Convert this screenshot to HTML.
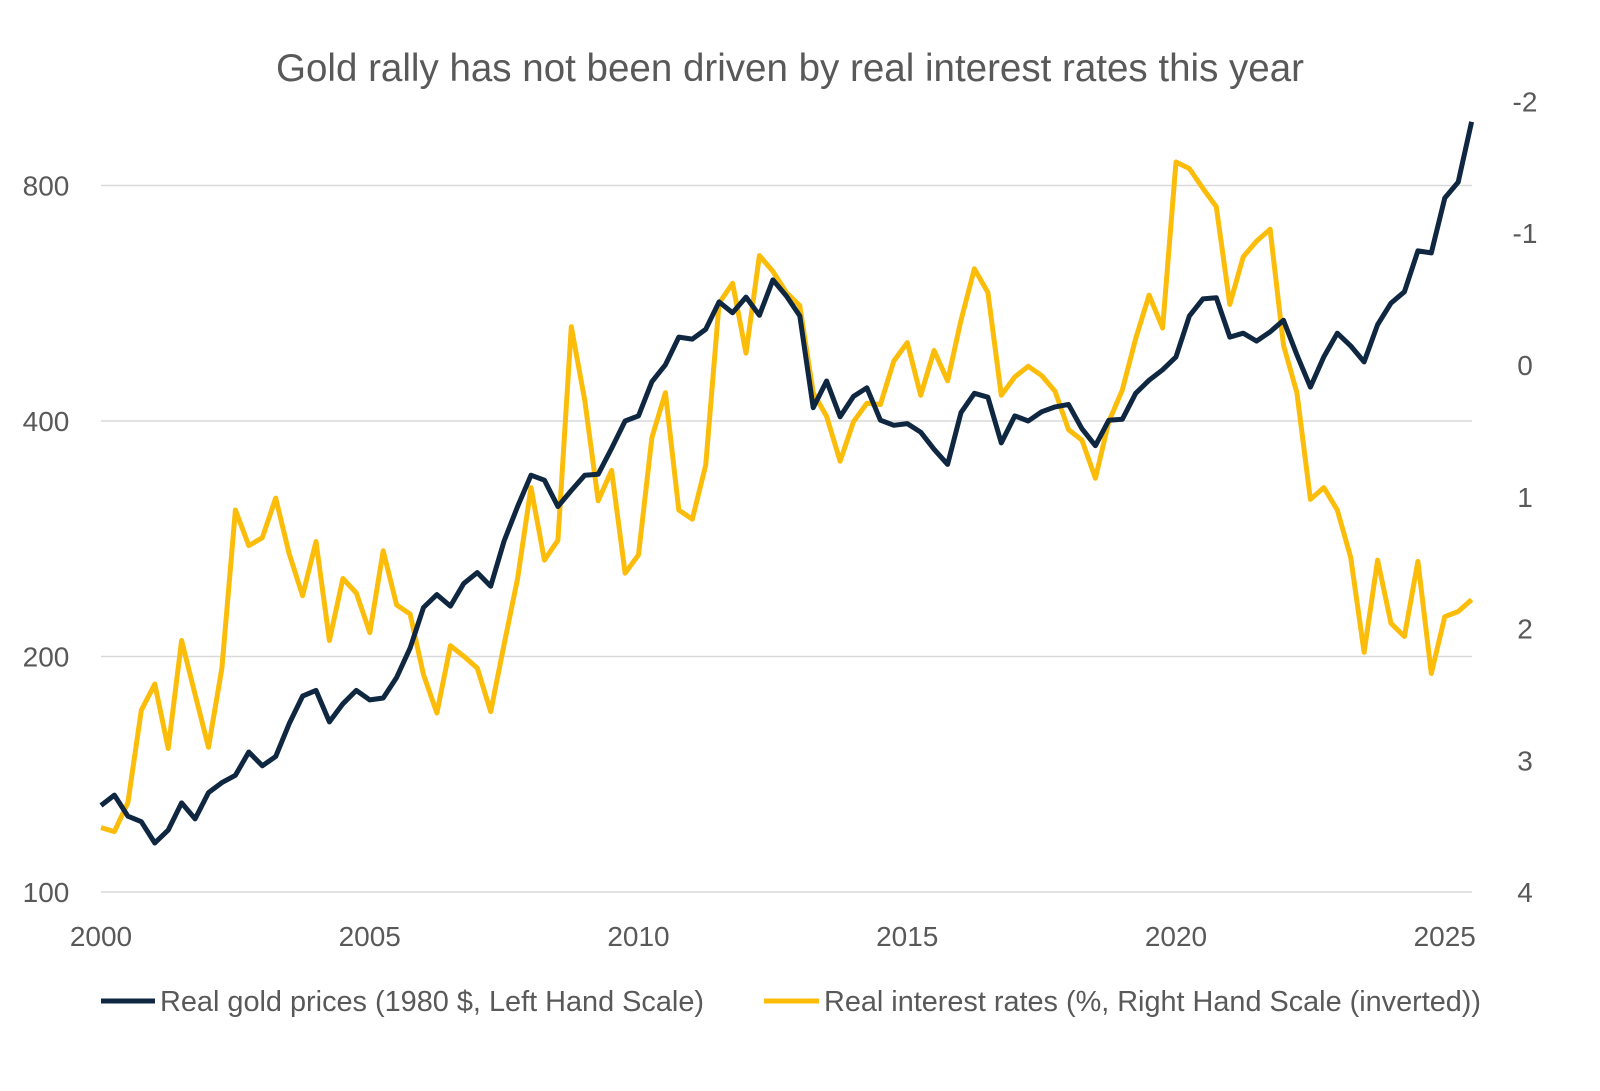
<!DOCTYPE html>
<html><head><meta charset="utf-8">
<style>
html,body{margin:0;padding:0;background:#fff;}
svg{display:block;font-family:"Liberation Sans",sans-serif;}
</style></head>
<body>
<svg id="chart" width="1600" height="1091" viewBox="0 0 1600 1091" xmlns="http://www.w3.org/2000/svg">
<rect width="1600" height="1091" fill="#fff"/>
<text x="790" y="81" text-anchor="middle" font-size="39" fill="#595959" textLength="1028" lengthAdjust="spacingAndGlyphs">Gold rally has not been driven by real interest rates this year</text>
<g id="grid"></g>
<g id="axes"></g>
<g id="series"></g>
<g>
<line x1="101" y1="1001" x2="155" y2="1001" stroke="#0f2741" stroke-width="5"/>
<text x="160" y="1011" font-size="29" fill="#595959" textLength="544" lengthAdjust="spacingAndGlyphs">Real gold prices (1980 $, Left Hand Scale)</text>
<line x1="764" y1="1001" x2="819" y2="1001" stroke="#fbbd09" stroke-width="5"/>
<text x="824" y="1011" font-size="29" fill="#595959" textLength="657" lengthAdjust="spacingAndGlyphs">Real interest rates (%, Right Hand Scale (inverted))</text>
</g>
</svg>
<script>
const startYear = 2000;
const xTickLabels = [2000, 2005, 2010, 2015, 2020, 2025];
const leftTicks = [100, 200, 400, 800];
const rightTicks = [-2, -1, 0, 1, 2, 3, 4];
const goldPrices = [129,133,125,123,115.5,120,130,124,134,138,141,151,145,149,164,178,181,165,174,181,176,177,188,205,231,240,232,248,256,246,281,311,341,336,311,326,341,342,369,400,406,449,472,512,509,524,568,550,576,546,606,578,545,416,450,405,430,441,401,395,397,387,368,352,410,434,429,375,406,400,411,417,420,391,372,401,402,434,451,465,483,545,573,575,512,518,506,520,538,486,442,483,518,499,476,531,566,585,660,656,771,808,965];
const realRates = [3.51,3.54,3.32,2.62,2.42,2.91,2.09,2.50,2.90,2.30,1.10,1.37,1.31,1.01,1.43,1.75,1.34,2.09,1.62,1.73,2.03,1.41,1.82,1.89,2.35,2.64,2.13,2.21,2.30,2.63,2.12,1.62,0.93,1.48,1.33,-0.29,0.27,1.03,0.80,1.58,1.44,0.55,0.21,1.10,1.17,0.76,-0.47,-0.62,-0.09,-0.83,-0.71,-0.55,-0.45,0.21,0.39,0.73,0.43,0.29,0.30,-0.03,-0.17,0.23,-0.11,0.12,-0.34,-0.73,-0.55,0.23,0.09,0.01,0.08,0.20,0.49,0.57,0.86,0.43,0.19,-0.20,-0.53,-0.28,-1.54,-1.49,-1.34,-1.20,-0.46,-0.82,-0.94,-1.03,-0.15,0.21,1.02,0.93,1.10,1.46,2.18,1.48,1.96,2.06,1.49,2.34,1.91,1.87,1.78];

const NS = 'http://www.w3.org/2000/svg';
const X0 = 101, PX_PER_YEAR = 53.75, X_END = 1472;
const xOf = t => X0 + (t - startYear) * PX_PER_YEAR;
const yLeft = v => 892 - Math.log2(v / 100) * 235.5;
const yRight = v => 365 + v * 131.8;
function mk(tag, attrs, parent) {
  const el = document.createElementNS(NS, tag);
  for (const k in attrs) el.setAttribute(k, attrs[k]);
  parent.appendChild(el);
  return el;
}
const grid = document.getElementById('grid');
const axes = document.getElementById('axes');
const series = document.getElementById('series');

leftTicks.forEach(v => {
  const l = mk('line', {x1: X0, x2: X_END, y1: yLeft(v), y2: yLeft(v), stroke: '#d9d9d9', 'stroke-width': 1.5}, grid);
  
  
  const t = mk('text', {x: 46, y: yLeft(v) + 10, 'text-anchor': 'middle', 'font-size': 28, fill: '#595959'}, axes);
  t.textContent = v;
  
  
});
rightTicks.forEach(v => {
  const t = mk('text', {x: 1525, y: yRight(v) + 10, 'text-anchor': 'middle', 'font-size': 28, fill: '#595959'}, axes);
  t.textContent = v;
  
  
});
xTickLabels.forEach(y => {
  const t = mk('text', {x: xOf(y), y: 946, 'text-anchor': 'middle', 'font-size': 28, fill: '#595959'}, axes);
  t.textContent = y;
  
  
});
function pathFor(arr, yf) {
  return arr.map((v, i) => (i ? 'L' : 'M') + xOf(startYear + i * 0.25).toFixed(1) + ',' + yf(v).toFixed(1)).join(' ');
}
const rl = mk('path', {d: pathFor(realRates, yRight), fill: 'none', stroke: '#fbbd09', 'stroke-width': 5, 'stroke-linejoin': 'round'}, series);


const gl = mk('path', {d: pathFor(goldPrices, yLeft), fill: 'none', stroke: '#0f2741', 'stroke-width': 5, 'stroke-linejoin': 'round'}, series);


</script>
</body></html>
